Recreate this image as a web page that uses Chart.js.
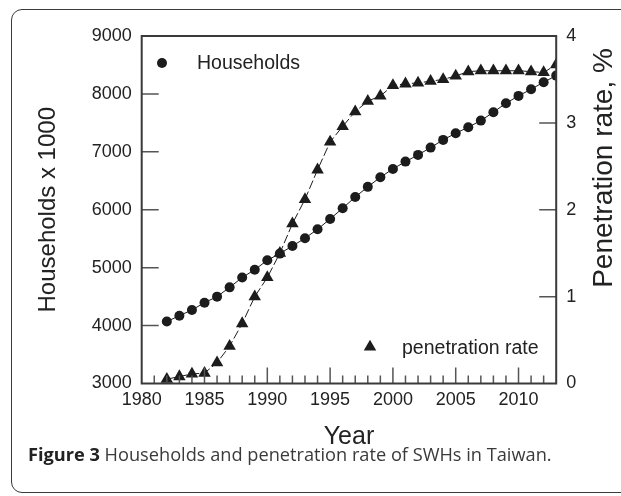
<!DOCTYPE html>
<html>
<head>
<meta charset="utf-8">
<script src="https://cdn.jsdelivr.net/npm/chart.js@4.4.0/dist/chart.umd.min.js"></script>
<style>
  html, body { margin: 0; padding: 0; background: #fff; }
  body { width: 621px; height: 496px; position: relative; overflow: hidden; }
  #frame {
    position: absolute; left: 11px; top: 9px; width: 700px; height: 484px;
    border: 1.5px solid #3a3a3a; border-radius: 11px; box-sizing: border-box;
  }
  #chart { position: absolute; left: 0; top: 0; }
  #caption {
    position: absolute; left: 28px; top: 442px; white-space: nowrap;
    font-family: "Open Sans", "Noto Sans", sans-serif; font-size: 18.2px; color: #3a3a3a;
  }
  #caption b { color: #222; font-weight: 700; }
</style>
</head>
<body>
<div id="frame"></div>
<canvas id="chart" width="621" height="460"></canvas>
<div id="caption"><b>Figure 3</b> Households and penetration rate of SWHs in Taiwan.</div>
<script>
(function () {
  'use strict';

  var years = [1982, 1983, 1984, 1985, 1986, 1987, 1988, 1989, 1990, 1991,
    1992, 1993, 1994, 1995, 1996, 1997, 1998, 1999, 2000, 2001, 2002,
    2003, 2004, 2005, 2006, 2007, 2008, 2009, 2010, 2011, 2012, 2013];

  // households, thousands
  var households = [4070, 4170, 4270, 4395, 4500, 4660, 4830, 4965, 5127, 5243,
    5375, 5508, 5663, 5841, 6026, 6220, 6395, 6561, 6705, 6831, 6947,
    7073, 7206, 7321, 7425, 7539, 7684, 7839, 7966, 8081, 8202, 8316];

  // solar water heater penetration rate, %
  var penetration = [0.05, 0.08, 0.11, 0.12, 0.24, 0.43, 0.69, 1.00, 1.22, 1.50,
    1.84, 2.12, 2.46, 2.78, 2.96, 3.13, 3.25, 3.31, 3.43, 3.45, 3.46,
    3.48, 3.50, 3.54, 3.59, 3.60, 3.60, 3.60, 3.60, 3.59, 3.58, 3.67];

  var yearTicks = [1980, 1985, 1990, 1995, 2000, 2005, 2010];
  var householdTicks = [3000, 4000, 5000, 6000, 7000, 8000, 9000];
  var rateTicks = [0, 1, 2, 3, 4];
  var rateTitle = 'Penetration rate, %';

  var INK = '#1c1c1c';
  var AXIS = '#3a3a3a';
  var TICK = '#555';
  var FONT = '"Liberation Sans", Arial, sans-serif';
  var CIRCLE_R = 5;
  var TRI_R = 7.2;

  function pairs(ys) {
    return years.map(function (x, i) { return { x: x, y: ys[i] }; });
  }

  function fixedTicks(list) {
    return function (scale) {
      scale.ticks = list.map(function (v) { return { value: v }; });
    };
  }

  function triangle(ctx, cx, cy, r) {
    ctx.beginPath();
    ctx.moveTo(cx, cy - r);
    ctx.lineTo(cx + r * Math.sin(Math.PI * 2 / 3), cy - r * Math.cos(Math.PI * 2 / 3));
    ctx.lineTo(cx + r * Math.sin(Math.PI * 4 / 3), cy - r * Math.cos(Math.PI * 4 / 3));
    ctx.closePath();
    ctx.fill();
  }

  // frame around the plot, inward tick marks, in-plot legend, right title
  var framePlugin = {
    id: 'frame',
    afterDraw: function (chart) {
      var ctx = chart.ctx;
      var a = chart.chartArea;
      var sx = chart.scales.x, sl = chart.scales.y, sr = chart.scales.y1;
      var y;

      ctx.save();
      ctx.strokeStyle = TICK;
      ctx.lineWidth = 1.5;
      ctx.beginPath();
      for (var yr = 1981; yr < 2013; yr++) {
        var px = sx.getPixelForValue(yr);
        var len = yr % 5 === 0 ? 16 : 8;
        ctx.moveTo(px, a.bottom);
        ctx.lineTo(px, a.bottom - len);
      }
      householdTicks.slice(1, -1).forEach(function (v) {
        y = sl.getPixelForValue(v);
        ctx.moveTo(a.left, y);
        ctx.lineTo(a.left + 17, y);
      });
      rateTicks.slice(1, -1).forEach(function (v) {
        y = sr.getPixelForValue(v);
        ctx.moveTo(a.right, y);
        ctx.lineTo(a.right - 17, y);
      });
      ctx.stroke();

      ctx.strokeStyle = AXIS;
      ctx.lineWidth = 2;
      ctx.strokeRect(a.left, a.top, a.right - a.left, a.bottom - a.top);

      // legend
      ctx.fillStyle = INK;
      ctx.beginPath();
      ctx.arc(162, 63, CIRCLE_R, 0, Math.PI * 2);
      ctx.fill();
      triangle(ctx, 370, 347, TRI_R);

      ctx.fillStyle = '#222';
      ctx.font = '19.5px ' + FONT;
      ctx.textBaseline = 'middle';
      ctx.textAlign = 'left';
      ctx.fillText(chart.data.datasets[0].label, 197, 64);
      ctx.fillText(chart.data.datasets[1].label, 402, 349);

      // right axis title, reading bottom to top
      ctx.translate(604, 168);
      ctx.rotate(-Math.PI / 2);
      ctx.textAlign = 'center';
      ctx.font = '28px ' + FONT;
      ctx.fillText(rateTitle, 0, 0);
      ctx.restore();
    }
  };

  new Chart(document.getElementById('chart'), {
    type: 'line',
    data: {
      datasets: [{
        label: 'Households',
        data: pairs(households),
        yAxisID: 'y',
        borderColor: INK,
        borderWidth: 1,
        pointStyle: 'circle',
        pointRadius: CIRCLE_R,
        pointBackgroundColor: INK,
        pointBorderWidth: 0,
        tension: 0
      }, {
        label: 'penetration rate',
        data: pairs(penetration),
        yAxisID: 'y1',
        borderColor: INK,
        borderWidth: 1,
        borderDash: [9, 3],
        pointStyle: 'triangle',
        pointRadius: TRI_R,
        pointBackgroundColor: INK,
        pointBorderWidth: 0,
        tension: 0
      }]
    },
    options: {
      responsive: false,
      animation: false,
      devicePixelRatio: 1,
      layout: { padding: { top: 36, left: 0, right: 0, bottom: 0 } },
      plugins: { legend: { display: false }, tooltip: { enabled: false } },
      scales: {
        x: {
          type: 'linear',
          min: 1980,
          max: 2013,
          afterBuildTicks: fixedTicks(yearTicks),
          afterFit: function (s) { s.height = 460 - 383.5; },
          grid: { display: false, drawTicks: false },
          border: { display: false },
          ticks: {
            padding: 6,
            color: '#222',
            font: { family: FONT, size: 18 },
            callback: function (v) { return String(v); }
          },
          title: {
            display: true,
            text: 'Year',
            color: '#222',
            font: { family: FONT, size: 25 },
            padding: { top: 0, bottom: 8 }
          }
        },
        y: {
          position: 'left',
          min: 3000,
          max: 9000,
          afterBuildTicks: fixedTicks(householdTicks),
          afterFit: function (s) { s.width = 141.7; },
          grid: { display: false, drawTicks: false },
          border: { display: false },
          ticks: {
            padding: 10,
            color: '#222',
            font: { family: FONT, size: 18 },
            callback: function (v) { return String(v); }
          },
          title: {
            display: true,
            text: 'Households x 1000',
            color: '#222',
            font: { family: FONT, size: 24 },
            padding: { top: 33.6, bottom: 0 }
          }
        },
        y1: {
          position: 'right',
          min: 0,
          max: 4,
          afterBuildTicks: fixedTicks(rateTicks),
          afterFit: function (s) { s.width = 621 - 556.2; },
          grid: { display: false, drawTicks: false },
          border: { display: false },
          ticks: {
            padding: 10,
            color: '#222',
            font: { family: FONT, size: 18 },
            callback: function (v) { return String(v); }
          },
          title: { display: false }
        }
      }
    },
    plugins: [framePlugin]
  });
})();
</script>
</body>
</html>
